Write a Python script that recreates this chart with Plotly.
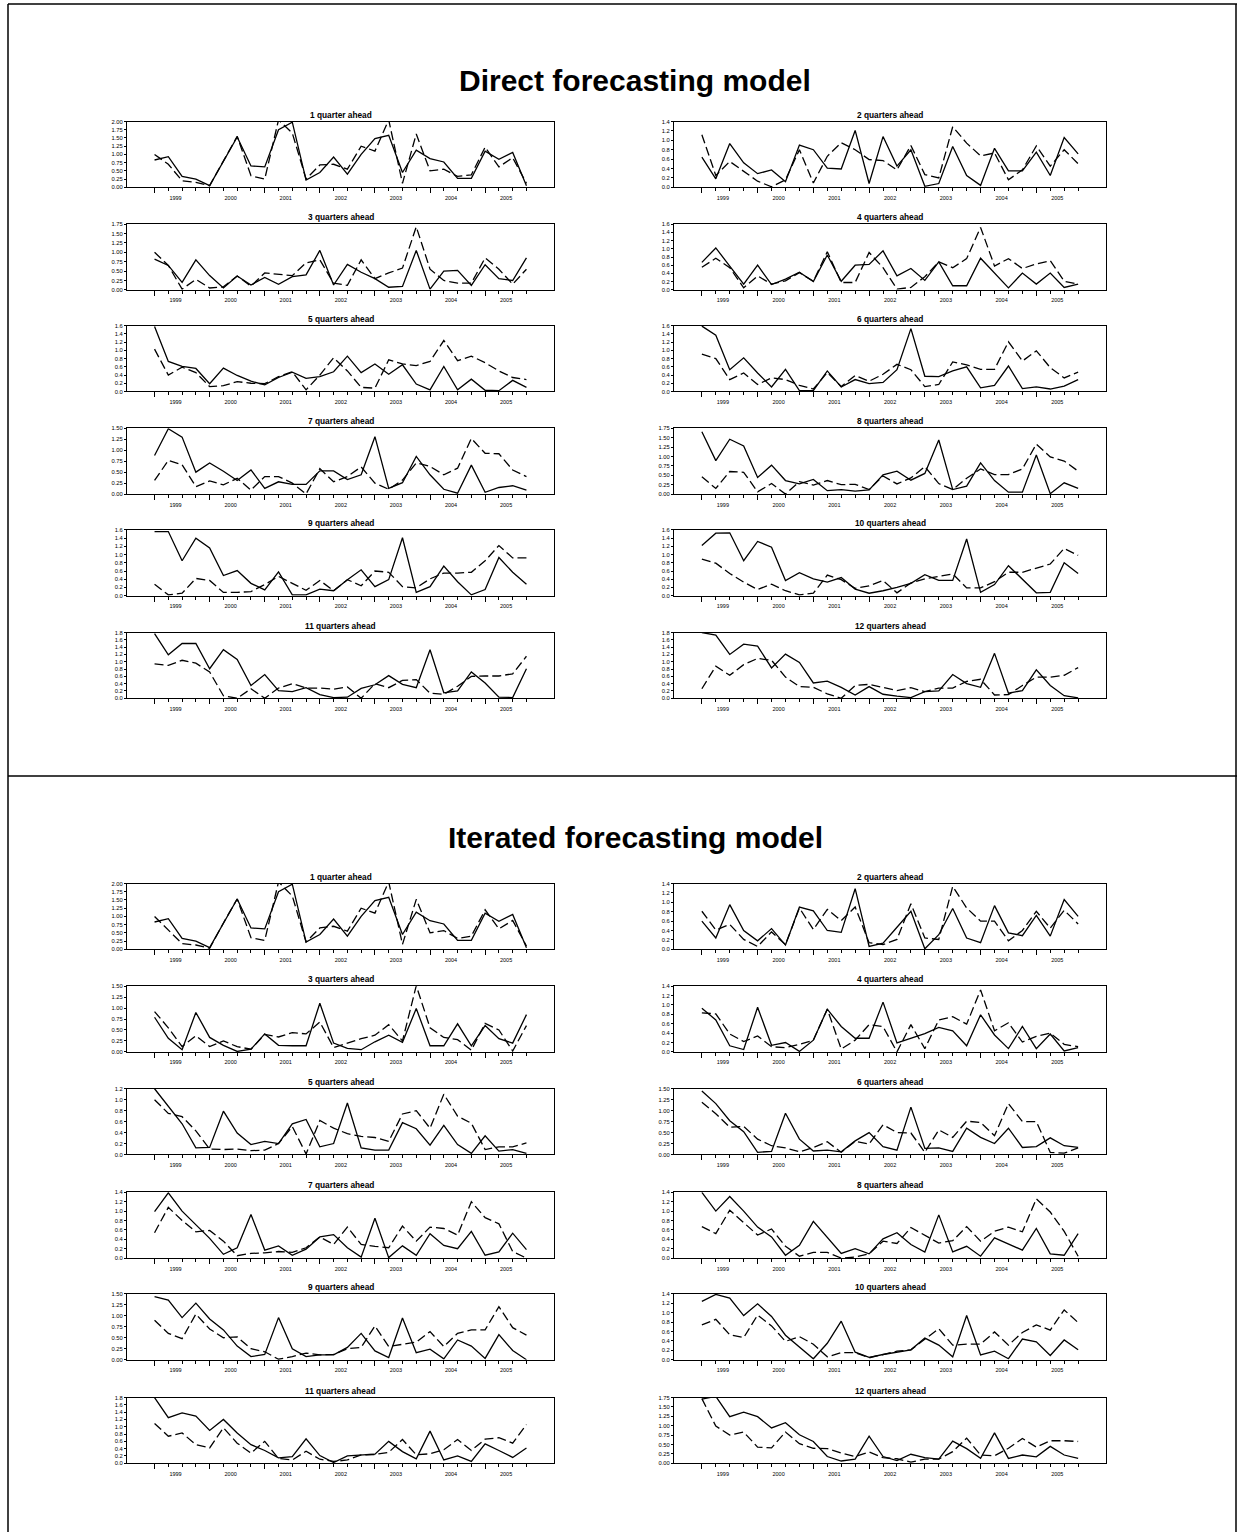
import plotly.graph_objects as go

W, H = 1237, 1535
FONT = "Liberation Sans, Arial, sans-serif"

years = ["1999", "2000", "2001", "2002", "2003", "2004", "2005"]
quarters = list(range(28))  # 1999Q1 .. 2005Q4

# ---------------- Direct forecasting model ----------------
dir_h1_solid = [0.83,0.93,0.33,0.25,0.05,0.80,1.53,0.65,0.62,1.75,1.98,0.22,0.45,0.92,0.40,1.00,1.48,1.58,0.45,1.13,0.87,0.77,0.27,0.27,1.10,0.85,1.06,0.05]
dir_h1_dash = [1.00,0.70,0.20,0.15,0.05,0.80,1.55,0.35,0.25,2.05,1.65,0.25,0.68,0.70,0.55,1.25,1.10,2.05,0.12,1.62,0.50,0.55,0.33,0.38,1.22,0.62,0.90,0.12]
dir_h2_solid = [0.64,0.18,0.93,0.52,0.29,0.37,0.12,0.90,0.80,0.41,0.39,1.21,0.08,1.08,0.45,0.80,0.02,0.08,0.87,0.25,0.04,0.83,0.35,0.35,0.75,0.25,1.06,0.71]
dir_h2_dash = [1.12,0.25,0.55,0.34,0.13,0.01,0.16,0.80,0.09,0.66,0.95,0.80,0.59,0.57,0.37,0.89,0.27,0.20,1.29,0.94,0.67,0.73,0.16,0.37,0.88,0.45,0.80,0.50]
dir_h3_solid = [0.82,0.65,0.20,0.80,0.38,0.05,0.37,0.13,0.33,0.15,0.35,0.40,1.05,0.13,0.68,0.47,0.30,0.07,0.09,1.05,0.02,0.50,0.52,0.12,0.67,0.30,0.25,0.85]
dir_h3_dash = [1.00,0.65,0.02,0.28,0.05,0.08,0.37,0.10,0.45,0.42,0.38,0.72,0.80,0.18,0.12,0.80,0.30,0.45,0.58,1.68,0.55,0.25,0.18,0.18,0.85,0.55,0.15,0.55]
dir_h4_solid = [0.67,1.02,0.58,0.14,0.60,0.13,0.26,0.43,0.20,0.85,0.21,0.60,0.62,0.95,0.34,0.52,0.23,0.68,0.10,0.10,0.77,0.40,0.05,0.41,0.14,0.41,0.06,0.14]
dir_h4_dash = [0.55,0.77,0.54,0.05,0.34,0.14,0.22,0.42,0.21,0.93,0.18,0.18,0.91,0.54,0.02,0.06,0.32,0.68,0.54,0.76,1.52,0.58,0.76,0.52,0.63,0.71,0.21,0.14]
dir_h5_solid = [1.58,0.73,0.61,0.56,0.19,0.57,0.39,0.25,0.16,0.34,0.47,0.32,0.36,0.48,0.86,0.46,0.67,0.42,0.65,0.18,0.04,0.61,0.04,0.30,0.03,0.02,0.27,0.10]
dir_h5_dash = [1.03,0.40,0.59,0.46,0.12,0.14,0.24,0.20,0.19,0.36,0.48,0.04,0.40,0.82,0.50,0.10,0.08,0.77,0.67,0.63,0.73,1.24,0.75,0.86,0.70,0.50,0.34,0.29]
dir_h6_solid = [1.59,1.37,0.53,0.82,0.45,0.11,0.54,0.02,0.02,0.50,0.11,0.29,0.19,0.22,0.53,1.53,0.37,0.36,0.50,0.60,0.09,0.15,0.62,0.07,0.11,0.06,0.13,0.29]
dir_h6_dash = [0.91,0.80,0.29,0.45,0.17,0.33,0.29,0.15,0.06,0.46,0.12,0.39,0.25,0.42,0.66,0.53,0.12,0.17,0.72,0.65,0.54,0.54,1.21,0.74,0.99,0.58,0.33,0.47]
dir_h7_solid = [0.88,1.49,1.30,0.50,0.71,0.52,0.31,0.55,0.13,0.28,0.22,0.22,0.53,0.53,0.33,0.44,1.31,0.13,0.26,0.86,0.44,0.11,0.02,0.66,0.04,0.15,0.19,0.09]
dir_h7_dash = [0.31,0.77,0.67,0.17,0.30,0.21,0.36,0.09,0.40,0.40,0.25,0.00,0.58,0.28,0.40,0.62,0.25,0.11,0.32,0.71,0.63,0.44,0.59,1.27,0.93,0.92,0.55,0.40]
dir_h8_solid = [1.66,0.89,1.46,1.28,0.44,0.77,0.36,0.27,0.39,0.09,0.12,0.08,0.11,0.51,0.61,0.37,0.55,1.44,0.12,0.21,0.83,0.36,0.05,0.05,1.04,0.01,0.30,0.15]
dir_h8_dash = [0.46,0.15,0.60,0.58,0.06,0.28,0.00,0.33,0.24,0.36,0.25,0.26,0.12,0.48,0.27,0.43,0.73,0.28,0.12,0.42,0.67,0.52,0.52,0.67,1.33,0.99,0.88,0.61]
dir_h9_solid = [1.56,1.56,0.85,1.40,1.16,0.49,0.61,0.30,0.14,0.58,0.02,0.02,0.16,0.12,0.39,0.63,0.22,0.39,1.41,0.08,0.22,0.72,0.34,0.02,0.15,0.93,0.57,0.28]
dir_h9_dash = [0.28,0.02,0.06,0.42,0.37,0.08,0.08,0.10,0.27,0.47,0.30,0.13,0.37,0.12,0.39,0.24,0.60,0.57,0.22,0.19,0.41,0.55,0.55,0.57,0.85,1.22,0.92,0.92]
dir_h10_solid = [1.22,1.52,1.53,0.85,1.32,1.18,0.37,0.56,0.41,0.33,0.44,0.16,0.06,0.12,0.20,0.30,0.51,0.37,0.37,1.38,0.08,0.27,0.73,0.39,0.07,0.08,0.80,0.54]
dir_h10_dash = [0.89,0.79,0.54,0.33,0.15,0.28,0.12,0.02,0.06,0.50,0.39,0.18,0.24,0.37,0.07,0.31,0.41,0.47,0.53,0.19,0.19,0.34,0.57,0.57,0.67,0.77,1.15,0.98]
dir_h11_solid = [1.77,1.19,1.50,1.50,0.81,1.33,1.06,0.35,0.65,0.21,0.18,0.29,0.10,0.02,0.03,0.27,0.37,0.62,0.38,0.29,1.33,0.15,0.20,0.72,0.42,0.03,0.02,0.81]
dir_h11_dash = [0.94,0.90,1.04,0.96,0.72,0.07,0.00,0.26,0.00,0.28,0.40,0.28,0.28,0.25,0.31,0.00,0.40,0.29,0.49,0.51,0.14,0.11,0.33,0.60,0.61,0.61,0.67,1.15]
dir_h12_solid = [1.80,1.73,1.20,1.48,1.43,0.83,1.21,0.98,0.42,0.47,0.30,0.09,0.32,0.11,0.06,0.02,0.18,0.20,0.65,0.40,0.30,1.23,0.14,0.21,0.78,0.35,0.07,0.01]
dir_h12_dash = [0.26,0.88,0.63,0.92,1.09,1.04,0.58,0.32,0.30,0.12,0.00,0.35,0.38,0.30,0.21,0.29,0.18,0.28,0.28,0.46,0.52,0.09,0.10,0.35,0.58,0.58,0.63,0.84]

# ---------------- Iterated forecasting model ----------------
it_h1_solid = [0.83,0.93,0.33,0.25,0.05,0.80,1.53,0.65,0.62,1.75,1.98,0.22,0.45,0.92,0.40,1.00,1.48,1.58,0.45,1.13,0.87,0.77,0.27,0.27,1.10,0.85,1.06,0.05]
it_h1_dash = [1.00,0.60,0.17,0.13,0.03,0.80,1.53,0.35,0.27,2.05,1.62,0.22,0.65,0.70,0.55,1.25,1.10,2.05,0.15,1.52,0.50,0.57,0.33,0.40,1.20,0.62,0.88,0.10]
it_h2_solid = [0.60,0.24,0.95,0.40,0.18,0.44,0.09,0.90,0.82,0.40,0.36,1.29,0.06,0.13,0.47,0.81,0.01,0.31,0.87,0.24,0.14,0.93,0.35,0.29,0.72,0.28,1.06,0.70]
it_h2_dash = [0.81,0.41,0.53,0.21,0.06,0.37,0.10,0.88,0.42,0.85,0.61,0.90,0.14,0.10,0.21,0.97,0.24,0.21,1.34,0.88,0.60,0.60,0.18,0.40,0.81,0.45,0.83,0.54]
it_h3_solid = [0.79,0.31,0.05,0.90,0.33,0.15,0.01,0.06,0.41,0.15,0.14,0.14,1.11,0.20,0.08,0.05,0.23,0.38,0.22,0.99,0.14,0.14,0.64,0.14,0.60,0.30,0.20,0.85]
it_h3_dash = [0.92,0.55,0.12,0.37,0.12,0.25,0.12,0.06,0.40,0.34,0.44,0.41,0.68,0.10,0.20,0.30,0.38,0.62,0.25,1.51,0.55,0.33,0.28,0.04,0.65,0.50,0.02,0.60]
it_h4_solid = [0.93,0.68,0.13,0.05,0.95,0.14,0.20,0.01,0.25,0.91,0.54,0.29,0.29,1.06,0.19,0.29,0.39,0.52,0.45,0.13,0.79,0.36,0.07,0.54,0.07,0.38,0.02,0.09]
it_h4_dash = [0.83,0.81,0.38,0.22,0.34,0.11,0.09,0.16,0.25,0.91,0.06,0.25,0.58,0.54,0.00,0.58,0.07,0.68,0.75,0.59,1.32,0.45,0.62,0.21,0.33,0.40,0.16,0.11]
it_h5_solid = [1.20,0.88,0.56,0.12,0.13,0.79,0.39,0.18,0.24,0.20,0.56,0.64,0.14,0.20,0.94,0.12,0.08,0.08,0.58,0.47,0.17,0.53,0.18,0.02,0.34,0.06,0.09,0.02]
it_h5_dash = [1.00,0.75,0.69,0.43,0.10,0.09,0.10,0.07,0.08,0.20,0.51,0.01,0.62,0.48,0.38,0.33,0.31,0.24,0.74,0.80,0.48,1.10,0.70,0.57,0.09,0.14,0.14,0.21]
it_h6_solid = [1.45,1.16,0.77,0.52,0.05,0.07,0.94,0.35,0.08,0.10,0.06,0.31,0.50,0.18,0.10,1.08,0.14,0.15,0.07,0.60,0.39,0.25,0.60,0.16,0.18,0.38,0.20,0.16]
it_h6_dash = [1.19,0.93,0.62,0.64,0.35,0.20,0.15,0.06,0.16,0.29,0.05,0.30,0.24,0.68,0.50,0.49,0.05,0.56,0.39,0.76,0.73,0.43,1.16,0.75,0.75,0.05,0.03,0.15]
it_h7_solid = [0.99,1.39,1.00,0.72,0.42,0.08,0.22,0.93,0.17,0.26,0.06,0.19,0.45,0.50,0.22,0.02,0.85,0.01,0.26,0.06,0.52,0.27,0.20,0.57,0.06,0.13,0.53,0.18]
it_h7_dash = [0.54,1.08,0.80,0.56,0.59,0.36,0.05,0.10,0.11,0.14,0.12,0.22,0.45,0.29,0.66,0.29,0.25,0.22,0.68,0.36,0.66,0.63,0.49,1.20,0.86,0.73,0.14,0.00]
it_h8_solid = [1.40,1.00,1.31,1.00,0.66,0.45,0.06,0.27,0.78,0.43,0.10,0.20,0.09,0.41,0.54,0.29,0.13,0.92,0.13,0.25,0.04,0.43,0.30,0.17,0.63,0.09,0.06,0.52]
it_h8_dash = [0.67,0.52,1.02,0.75,0.49,0.62,0.25,0.04,0.12,0.12,0.00,0.02,0.09,0.36,0.31,0.65,0.49,0.32,0.37,0.67,0.36,0.57,0.66,0.56,1.26,0.98,0.57,0.04]
it_h9_solid = [1.44,1.36,0.96,1.29,0.93,0.68,0.31,0.07,0.12,0.96,0.25,0.07,0.11,0.11,0.28,0.60,0.20,0.05,0.95,0.16,0.24,0.02,0.45,0.31,0.03,0.57,0.21,0.00]
it_h9_dash = [0.90,0.60,0.48,1.04,0.70,0.50,0.52,0.25,0.18,0.01,0.07,0.15,0.11,0.12,0.25,0.28,0.77,0.30,0.35,0.40,0.64,0.30,0.60,0.68,0.68,1.21,0.73,0.56]
it_h10_solid = [1.24,1.39,1.31,0.94,1.19,0.92,0.52,0.26,0.02,0.35,0.82,0.16,0.05,0.11,0.16,0.21,0.46,0.31,0.06,0.94,0.10,0.18,0.02,0.44,0.38,0.09,0.42,0.21]
it_h10_dash = [0.74,0.86,0.53,0.47,0.95,0.72,0.39,0.49,0.33,0.06,0.15,0.15,0.04,0.11,0.18,0.21,0.44,0.66,0.31,0.33,0.33,0.59,0.31,0.58,0.74,0.63,1.06,0.79]
it_h11_solid = [1.80,1.25,1.38,1.29,0.90,1.20,0.83,0.51,0.35,0.15,0.18,0.67,0.21,0.02,0.20,0.23,0.25,0.60,0.32,0.12,0.88,0.09,0.20,0.05,0.53,0.35,0.16,0.42]
it_h11_dash = [1.09,0.74,0.83,0.51,0.42,0.97,0.55,0.28,0.60,0.13,0.09,0.33,0.11,0.05,0.09,0.23,0.24,0.30,0.65,0.23,0.26,0.37,0.65,0.35,0.66,0.70,0.55,1.06]
it_h12_solid = [1.71,1.78,1.24,1.36,1.24,0.94,1.08,0.76,0.58,0.18,0.06,0.11,0.72,0.18,0.07,0.24,0.15,0.11,0.59,0.39,0.13,0.81,0.13,0.22,0.17,0.45,0.22,0.13]
it_h12_dash = [1.72,0.99,0.75,0.83,0.43,0.41,0.83,0.52,0.40,0.39,0.27,0.18,0.30,0.15,0.12,0.03,0.11,0.11,0.31,0.67,0.22,0.20,0.40,0.66,0.43,0.60,0.60,0.58]

# y-axis tick ranges per horizon
dir_ymax = [2.00, 1.4, 1.75, 1.6, 1.6, 1.6, 1.50, 1.75, 1.6, 1.6, 1.8, 1.8]
dir_ystep = [0.25, 0.2, 0.25, 0.2, 0.2, 0.2, 0.25, 0.25, 0.2, 0.2, 0.2, 0.2]
it_ymax = [2.00, 1.4, 1.50, 1.4, 1.2, 1.50, 1.4, 1.4, 1.50, 1.4, 1.8, 1.75]
it_ystep = [0.25, 0.2, 0.25, 0.2, 0.2, 0.25, 0.2, 0.2, 0.25, 0.2, 0.2, 0.25]

section_titles = ["Direct forecasting model", "Iterated forecasting model"]
panel_titles = ["1 quarter ahead"] + [f"{h} quarters ahead" for h in range(2, 13)]

dir_solid = [dir_h1_solid, dir_h2_solid, dir_h3_solid, dir_h4_solid, dir_h5_solid, dir_h6_solid,
             dir_h7_solid, dir_h8_solid, dir_h9_solid, dir_h10_solid, dir_h11_solid, dir_h12_solid]
dir_dash = [dir_h1_dash, dir_h2_dash, dir_h3_dash, dir_h4_dash, dir_h5_dash, dir_h6_dash,
            dir_h7_dash, dir_h8_dash, dir_h9_dash, dir_h10_dash, dir_h11_dash, dir_h12_dash]
it_solid = [it_h1_solid, it_h2_solid, it_h3_solid, it_h4_solid, it_h5_solid, it_h6_solid,
            it_h7_solid, it_h8_solid, it_h9_solid, it_h10_solid, it_h11_solid, it_h12_solid]
it_dash = [it_h1_dash, it_h2_dash, it_h3_dash, it_h4_dash, it_h5_dash, it_h6_dash,
           it_h7_dash, it_h8_dash, it_h9_dash, it_h10_dash, it_h11_dash, it_h12_dash]

sections = [
    (dir_solid, dir_dash, dir_ymax, dir_ystep),
    (it_solid, it_dash, it_ymax, it_ystep),
]

# ---------------- layout geometry (window pixels) ----------------
col_px = [(127, 554), (674, 1106)]
row_tops = [[119, 222, 324, 427, 529, 632], [884, 987, 1090, 1194, 1296, 1400]]
panel_h = 66
section_title_y = [78, 838]
section_title_x = 635
divider_y = 776
frame_left, frame_top, frame_right = 8, 1, 1236
XMIN, XMAX = -2, 29


def px_x(p):
    return p / W


def px_y(p):
    return 1 - p / H


fig = go.Figure()
layout = dict(
    width=W, height=H,
    margin=dict(l=0, r=0, t=0, b=0),
    paper_bgcolor="white", plot_bgcolor="white",
    showlegend=False,
    font=dict(family=FONT, color="black"),
)
annotations = []
k = 0
for s, (solids, dashes, ymaxs, ysteps) in enumerate(sections):
    annotations.append(dict(
        text=f"<b>{section_titles[s]}</b>", x=px_x(section_title_x), y=px_y(section_title_y[s]),
        xref="paper", yref="paper", xanchor="center", yanchor="middle",
        showarrow=False, font=dict(size=30, family=FONT, color="black")))
    for h in range(12):
        k += 1
        row, col = h // 2, h % 2
        x0, x1 = col_px[col]
        top = row_tops[s][row]
        bot = top + panel_h
        xa = "x" if k == 1 else f"x{k}"
        ya = "y" if k == 1 else f"y{k}"
        fig.add_trace(go.Scatter(
            x=quarters, y=solids[h], mode="lines", xaxis=xa, yaxis=ya,
            line=dict(color="black", width=1.3), hoverinfo="skip"))
        fig.add_trace(go.Scatter(
            x=quarters, y=dashes[h], mode="lines", xaxis=xa, yaxis=ya,
            line=dict(color="black", width=1.3, dash="9px,4px"), hoverinfo="skip"))
        step = ysteps[h]
        n = int(round(ymaxs[h] / step))
        yvals = [round(i * step, 2) for i in range(n + 1)]
        fmt = "{:.2f}" if step == 0.25 else "{:.1f}"
        ytext = [fmt.format(v) for v in yvals]
        unit_px = (x1 - x0) / (XMAX - XMIN)
        xkey = "xaxis" if k == 1 else f"xaxis{k}"
        ykey = "yaxis" if k == 1 else f"yaxis{k}"
        layout[xkey] = dict(
            domain=[px_x(x0), px_x(x1)], anchor=ya, range=[XMIN, XMAX],
            showgrid=False, zeroline=False, showline=True, mirror=True,
            linecolor="black", linewidth=1,
            tickmode="array", tickvals=[4 * i for i in range(7)], ticktext=years,
            ticks="outside", ticklen=5, tickcolor="black", tickwidth=1,
            ticklabelshift=int(round(1.5 * unit_px)),
            tickfont=dict(size=5.5, family=FONT, color="black"),
            minor=dict(tickmode="array", tickvals=quarters, ticks="outside",
                       ticklen=3, tickcolor="black", tickwidth=1, showgrid=False),
        )
        layout[ykey] = dict(
            domain=[px_y(bot), px_y(top)], anchor=xa, range=[0, ymaxs[h]],
            showgrid=False, zeroline=False, showline=True, mirror=True,
            linecolor="black", linewidth=1,
            tickmode="array", tickvals=yvals, ticktext=ytext,
            ticks="outside", ticklen=2, tickcolor="black", tickwidth=1,
            tickfont=dict(size=5.8, family=FONT, color="black"),
        )
        annotations.append(dict(
            text=f"<b>{panel_titles[h]}</b>", x=px_x((x0 + x1) / 2), y=px_y(top - 7),
            xref="paper", yref="paper", xanchor="center", yanchor="middle",
            showarrow=False, font=dict(size=8.3, family=FONT, color="black")))

layout["annotations"] = annotations
layout["shapes"] = [
    dict(type="line", xref="paper", yref="paper",
         x0=px_x(frame_left), x1=1, y0=px_y(frame_top), y1=px_y(frame_top),
         line=dict(color="black", width=1.5)),
    dict(type="line", xref="paper", yref="paper",
         x0=px_x(frame_left), x1=px_x(frame_left), y0=0, y1=px_y(frame_top),
         line=dict(color="black", width=1.5)),
    dict(type="line", xref="paper", yref="paper",
         x0=px_x(frame_right), x1=px_x(frame_right), y0=0, y1=px_y(frame_top),
         line=dict(color="black", width=1.5)),
    dict(type="line", xref="paper", yref="paper",
         x0=px_x(frame_left), x1=1, y0=px_y(divider_y), y1=px_y(divider_y),
         line=dict(color="black", width=1.5)),
]
fig.update_layout(**layout)
fig.write_html("out.html",
               config={"displayModeBar": False, "staticPlot": True},
               post_script="document.body.style.margin='0px';document.body.style.overflow='hidden';")
